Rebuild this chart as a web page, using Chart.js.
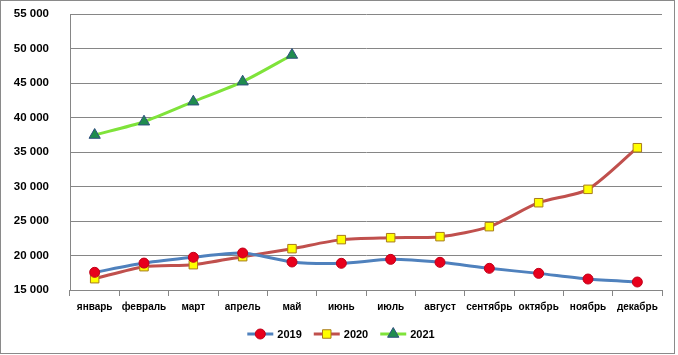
<!DOCTYPE html>
<html><head><meta charset="utf-8">
<script src="https://cdn.jsdelivr.net/npm/chart.js@4/dist/chart.umd.min.js"></script>
<style>html,body{margin:0;padding:0;background:#fff;}#wrap{width:678px;height:355px;position:relative;}</style>
</head><body><div id="wrap"><canvas id="c" width="678" height="355"></canvas></div>
<script>
const categories = ["январь","февраль","март","апрель","май","июнь","июль","август","сентябрь","октябрь","ноябрь","декабрь"];
const series2019 = [17560,18900,19740,20360,19060,18870,19440,19010,18140,17410,16590,16160];
const series2020 = [16640,18380,18670,19830,20990,22300,22580,22730,24180,27650,29590,35620];
const series2021 = [37460,39390,42290,45190,49060];
const seriesNames = ["2019","2020","2021"];
const yTicks = [15000,20000,25000,30000,35000,40000,45000,50000,55000];

const FONT = "'Liberation Sans', Arial, sans-serif";
const fmt = v => String(v).replace(/\B(?=(\d{3})+(?!\d))/g, ' ');

const borderPlugin = {
  id: 'frame',
  beforeDraw(chart) {
    const ctx = chart.ctx;
    ctx.save();
    ctx.fillStyle = '#fff';
    ctx.fillRect(0,0,chart.width,chart.height);
    ctx.strokeStyle = '#8a8a8a';
    ctx.lineWidth = 1;
    ctx.strokeRect(0.5,0.5,674,353);
    ctx.restore();
  },
  afterDraw(chart) {
    const ctx = chart.ctx;
    ctx.save();
    ctx.font = 'bold 11px ' + FONT;
    ctx.textBaseline = 'middle';
    const y = 334;
    const lineW = 26, gap = 4, itemGap = 12;
    const items = chart.data.datasets.map(ds => ({ds, tw: ctx.measureText(ds.label).width}));
    const total = items.reduce((s,it)=>s+lineW+gap+it.tw,0) + itemGap*(items.length-1);
    let x = 341 - total/2;
    items.forEach(({ds,tw}) => {
      ctx.strokeStyle = ds.borderColor;
      ctx.lineWidth = 3;
      ctx.beginPath(); ctx.moveTo(x,y); ctx.lineTo(x+lineW,y); ctx.stroke();
      ctx.fillStyle = ds.pointBackgroundColor; ctx.strokeStyle = ds.pointBorderColor; ctx.lineWidth = 1;
      Chart.helpers.drawPoint(ctx, {pointStyle: ds.pointStyle, radius: ds.pointRadius, borderWidth: 1}, x+lineW/2, y);
      ctx.fillStyle = '#000';
      ctx.textAlign = 'left';
      ctx.fillText(ds.label, x+lineW+gap, y+1);
      x += lineW+gap+tw+itemGap;
    });
    ctx.restore();
  }
};

new Chart(document.getElementById('c'), {
  type: 'line',
  data: {
    labels: categories,
    datasets: [
      {label: seriesNames[0], data: series2019, borderColor:'#4f81bd', borderWidth:3, tension:0.25,
       pointStyle:'circle', pointRadius:5, pointBackgroundColor:'#e8001c', pointBorderColor:'#c0001a', pointBorderWidth:1},
      {label: seriesNames[1], data: series2020, borderColor:'#c0504d', borderWidth:3, tension:0.25,
       pointStyle:'rect', pointRadius:6, pointBackgroundColor:'#ffff00', pointBorderColor:'#a87a1c', pointBorderWidth:1},
      {label: seriesNames[2], data: series2021, borderColor:'#7fe33a', borderWidth:3, tension:0.25,
       pointStyle:'triangle', pointRadius:6.5, pointBackgroundColor:'#1f8c4e', pointBorderColor:'#2f4f7f', pointBorderWidth:1}
    ]
  },
  options: {
    responsive:false, animation:false, devicePixelRatio:1,
    layout:{autoPadding:false, padding:{top:14,right:16,left:0,bottom:0}},
    plugins:{legend:{display:false}, tooltip:{enabled:false}},
    scales:{
      x:{
        offset:true,
        grid:{offset:true, drawOnChartArea:false, tickLength:6, color:'#868686', tickColor:'#868686'},
        border:{display:false},
        ticks:{color:'#000', font:{family:FONT, size:10, weight:'bold'}, padding:5, maxRotation:0, autoSkip:false},
        afterFit(s){ s.height = 65; s.paddingLeft = 0; s.paddingRight = 0; }
      },
      y:{
        min:15000, max:55000,
        afterBuildTicks(s){ s.ticks = yTicks.map(v=>({value:v})); },
        grid:{color:'#868686', drawTicks:false},
        border:{color:'#868686'},
        ticks:{color:'#000', font:{family:FONT, size:11.5, weight:'bold'}, padding:21, callback:v=>fmt(v)},
        afterFit(s){ s.width = 70; s.paddingTop = 0; s.paddingBottom = 0; }
      }
    }
  },
  plugins:[borderPlugin]
});
</script></body></html>
